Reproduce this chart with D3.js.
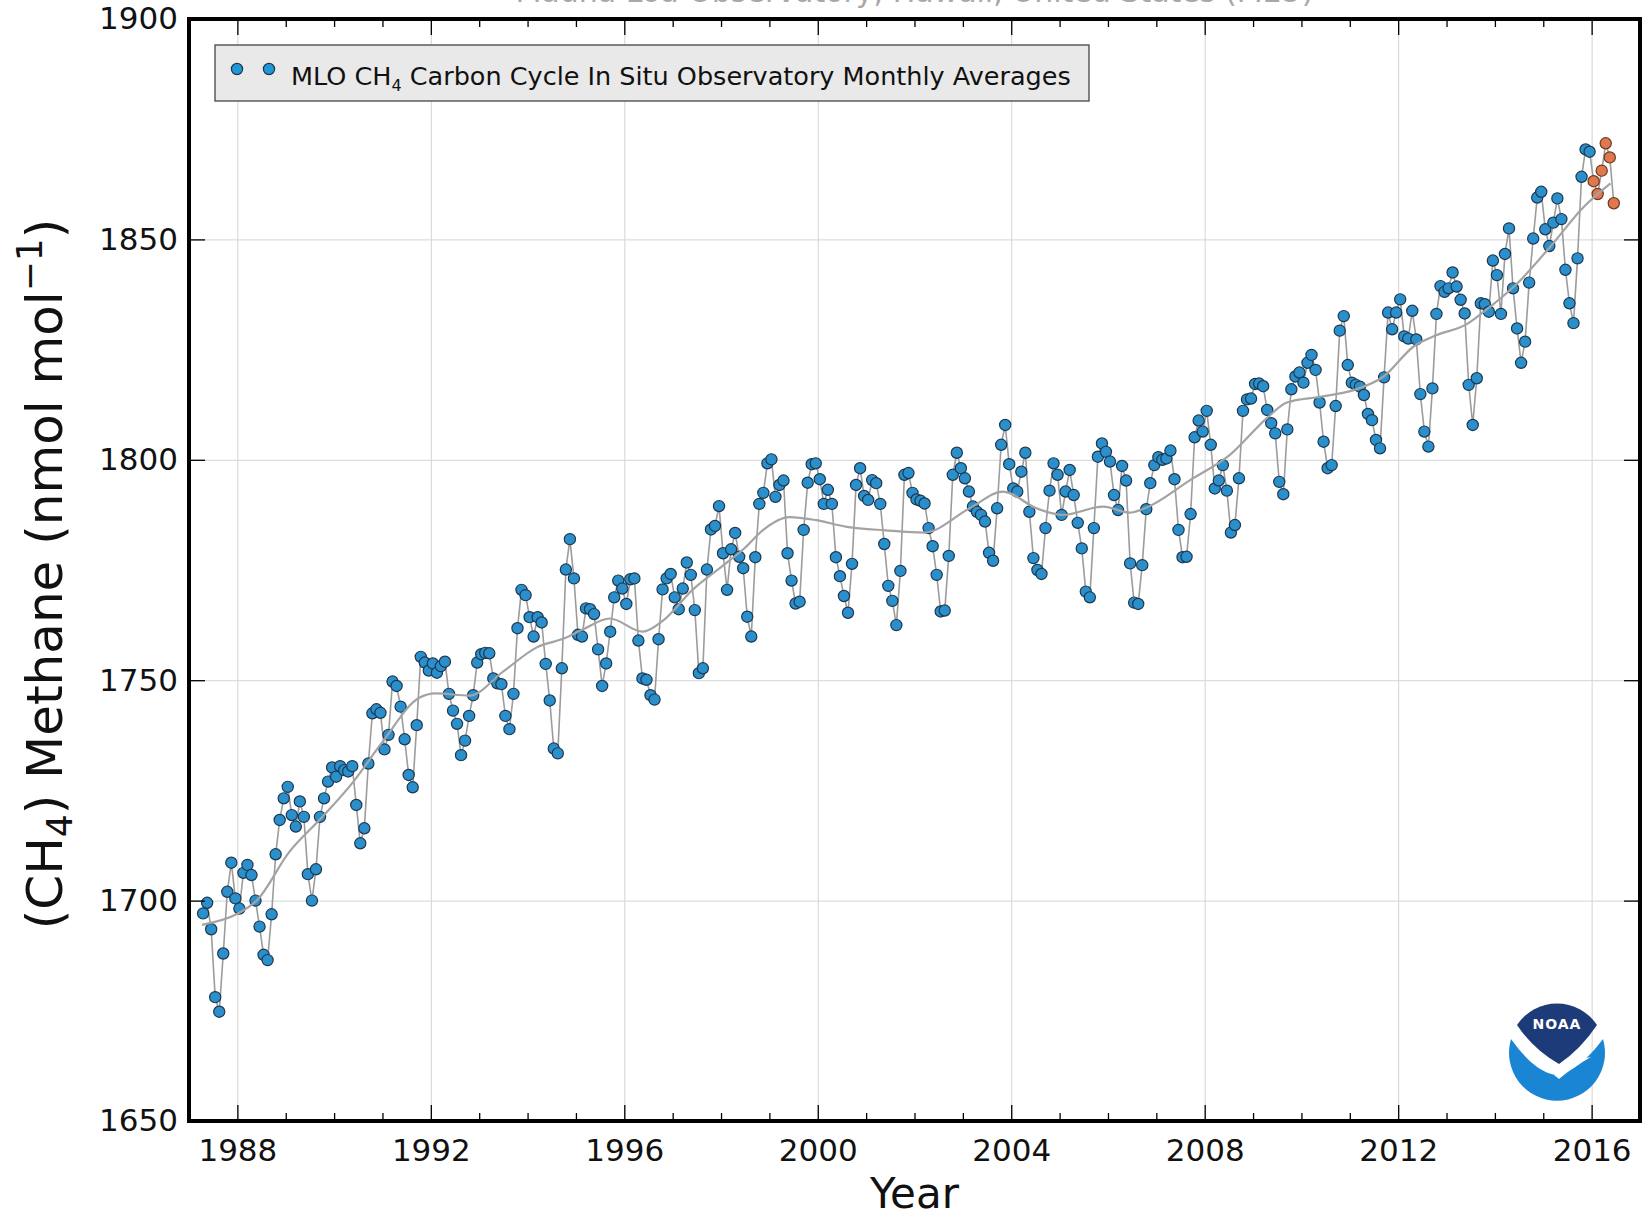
<!DOCTYPE html>
<html>
<head>
<meta charset="utf-8">
<script src="https://cdn.jsdelivr.net/npm/d3@7"></script>
<style>
  html, body { margin: 0; padding: 0; background: #fff; }
  svg { display: block; font-family: "DejaVu Sans", "Liberation Sans", sans-serif; }
</style>
</head>
<body>
<svg id="chart" width="1646" height="1218"></svg>
<script>
// Mauna Loa in situ CH4, monthly means (nmol mol-1), January..December; null = no data
const ch4_1987 = [null, null, null, 1697.1, 1699.5, 1693.5, 1678.1, 1674.8, 1688.0, 1702.0, 1708.6, 1700.5];
const ch4_1988 = [1698.2, 1706.3, 1708.1, 1705.8, 1700.0, 1694.1, 1687.7, 1686.5, 1696.9, 1710.5, 1718.3, 1723.2];
const ch4_1989 = [1725.8, 1719.4, 1716.8, 1722.5, 1719.0, 1706.0, 1700.0, 1707.1, 1719.0, 1723.2, 1727.0, 1730.2];
const ch4_1990 = [1728.1, 1730.5, 1729.6, 1729.3, 1730.5, 1721.7, 1713.0, 1716.4, 1731.1, 1742.5, 1743.4, 1742.6];
const ch4_1991 = [1734.3, 1737.6, 1749.7, 1748.7, 1744.0, 1736.6, 1728.5, 1725.7, 1739.8, 1755.3, 1754.0, 1752.2];
const ch4_1992 = [1753.8, 1751.7, 1753.2, 1754.2, 1746.9, 1743.1, 1740.1, 1733.0, 1736.3, 1741.9, 1746.6, 1754.0];
const ch4_1993 = [1755.9, 1756.2, 1756.1, 1750.4, 1749.3, 1749.1, 1741.9, 1738.9, 1746.9, 1761.8, 1770.5, 1769.3];
const ch4_1994 = [1764.3, 1759.9, 1764.3, 1763.1, 1753.7, 1745.4, 1734.5, 1733.4, 1752.7, 1775.1, 1782.0, 1773.1];
const ch4_1995 = [1760.3, 1759.9, 1766.3, 1766.1, 1765.0, 1757.0, 1748.7, 1753.8, 1761.0, 1768.8, 1772.6, 1770.8];
const ch4_1996 = [1767.3, 1772.9, 1773.1, 1759.0, 1750.4, 1750.1, 1746.6, 1745.6, 1759.3, 1770.6, 1773.1, 1774.1];
const ch4_1997 = [1768.8, 1766.1, 1770.8, 1776.7, 1773.9, 1765.9, 1751.6, 1752.7, 1775.1, 1784.2, 1785.0, 1789.5];
const ch4_1998 = [1778.8, 1770.5, 1779.7, 1783.4, 1778.0, 1775.4, 1764.4, 1759.9, 1777.9, 1790.0, 1792.5, 1799.2];
const ch4_1999 = [1800.1, 1791.6, 1794.3, 1795.3, 1778.8, 1772.6, 1767.4, 1767.8, 1784.1, 1794.8, 1799.0, 1799.2];
const ch4_2000 = [1795.6, 1790.0, 1793.2, 1790.0, 1777.9, 1773.6, 1769.1, 1765.3, 1776.4, 1794.3, 1798.1, 1791.8];
const ch4_2001 = [1790.9, 1795.4, 1794.7, 1790.0, 1780.9, 1771.4, 1768.0, 1762.5, 1774.8, 1796.6, 1797.0, 1792.5];
const ch4_2002 = [1791.0, 1790.7, 1790.1, 1784.5, 1780.4, 1773.9, 1765.6, 1765.8, 1778.2, 1796.6, 1801.6, 1798.1];
const ch4_2003 = [1795.8, 1792.8, 1789.4, 1788.2, 1787.5, 1786.0, 1778.9, 1777.1, 1789.0, 1803.4, 1807.9, 1799.0];
const ch4_2004 = [1793.5, 1792.8, 1797.3, 1801.6, 1788.2, 1777.7, 1775.0, 1774.1, 1784.5, 1793.0, 1799.2, 1796.6];
const ch4_2005 = [1787.5, 1792.8, 1797.7, 1792.0, 1785.7, 1779.9, 1770.1, 1768.8, 1784.5, 1800.7, 1803.7, 1801.8];
const ch4_2006 = [1799.6, 1792.0, 1788.6, 1798.6, 1795.3, 1776.5, 1767.6, 1767.3, 1776.1, 1788.8, 1794.7, 1798.8];
const ch4_2007 = [1800.6, 1800.0, 1800.3, 1802.1, 1795.6, 1784.1, 1777.9, 1778.0, 1787.7, 1805.1, 1808.9, 1806.4];
const ch4_2008 = [1811.1, 1803.4, 1793.5, 1795.3, 1798.8, 1793.0, 1783.5, 1785.2, 1795.8, 1811.1, 1813.7, 1813.9];
const ch4_2009 = [1817.2, 1817.3, 1816.7, 1811.3, 1808.3, 1806.0, 1795.0, 1792.2, 1806.9, 1816.0, 1818.9, 1819.8];
const ch4_2010 = [1817.5, 1822.0, 1823.8, 1820.4, 1813.0, 1804.1, 1798.1, 1798.8, 1812.2, 1829.3, 1832.6, 1821.5];
const ch4_2011 = [1817.5, 1817.0, 1816.6, 1814.7, 1810.4, 1809.0, 1804.5, 1802.6, 1818.7, 1833.4, 1829.6, 1833.4];
const ch4_2012 = [1836.4, 1828.0, 1827.5, 1833.8, 1827.3, 1814.9, 1806.4, 1803.0, 1816.2, 1833.1, 1839.4, 1838.1];
const ch4_2013 = [1838.9, 1842.5, 1839.3, 1836.3, 1833.2, 1817.0, 1807.9, 1818.5, 1835.5, 1835.3, 1833.6, 1845.2];
const ch4_2014 = [1841.9, 1833.1, 1846.7, 1852.5, 1838.9, 1829.8, 1822.0, 1826.8, 1840.2, 1850.2, 1859.5, 1860.8];
const ch4_2015 = [1852.3, 1848.5, 1853.8, 1859.3, 1854.6, 1843.1, 1835.5, 1831.0, 1845.7, 1864.2, 1870.4, 1869.9];
// preliminary months (not yet quality controlled)
const ch4_2016_prelim = [1863.2, 1860.3, 1865.6, 1871.8, 1868.6, 1858.2];

const firstYear = 1987;
const finalYears = [ch4_1987, ch4_1988, ch4_1989, ch4_1990, ch4_1991, ch4_1992, ch4_1993, ch4_1994,
  ch4_1995, ch4_1996, ch4_1997, ch4_1998, ch4_1999, ch4_2000, ch4_2001, ch4_2002, ch4_2003,
  ch4_2004, ch4_2005, ch4_2006, ch4_2007, ch4_2008, ch4_2009, ch4_2010, ch4_2011, ch4_2012,
  ch4_2013, ch4_2014, ch4_2015];
const prelimYear = 2016;

// deseasonalized long-term trend
const trendYears  = [1987.27, 1988.0, 1988.4, 1989.07, 1989.76, 1990.4, 1991.0, 1991.76, 1992.1, 1992.8,
  1993.5, 1994.2, 1994.76, 1995.14, 1995.7, 1996.38, 1996.8, 1997.41, 1998.1, 1998.49, 1998.86,
  1999.42, 1999.97, 2000.6, 2001.4, 2002.2, 2003.14, 2003.83, 2004.52, 2005.07, 2005.9, 2006.45,
  2006.76, 2007.7, 2008.52, 2009.28, 2009.7, 2010.39, 2011.08, 2011.7, 2012.32, 2012.8, 2013.39,
  2013.77, 2014.46, 2015.15, 2015.84, 2016.39];
const trendValues = [1694.5, 1697, 1700, 1711, 1719, 1727, 1736, 1746, 1747, 1746.5,
  1752, 1757.5, 1759.5, 1761.5, 1764, 1761, 1763.5, 1770.5, 1776.5, 1780, 1784,
  1787, 1786.3, 1784.8, 1784, 1783.5, 1789, 1792.8, 1789, 1787.5, 1789.4, 1788,
  1789, 1795.4, 1801.1, 1809.4, 1813, 1814.3, 1815.8, 1818.9, 1825.7, 1828.3, 1830.6,
  1833.6, 1840, 1848.4, 1857.4, 1862.7];

const xMajorTicks = [1988, 1992, 1996, 2000, 2004, 2008, 2012, 2016];
const xMinorTicks = d3.range(1987, 2018).filter(yr => !xMajorTicks.includes(yr));
const yMajorTicks = [1650, 1700, 1750, 1800, 1850, 1900];

// ---------------------------------------------------------------------------
const svg = d3.select("#chart");
const plot = { left: 189, right: 1640, top: 19, bottom: 1121 };
const W = plot.right - plot.left, H = plot.bottom - plot.top;

const x = d3.scaleLinear().domain([1987, 2017]).range([plot.left, plot.right]);
const y = d3.scaleLinear().domain([1650, 1900]).range([plot.bottom, plot.top]);

const points = [];
finalYears.forEach((vals, i) => vals.forEach((v, m) => {
  if (v != null) points.push({ t: firstYear + i + (m + 0.5) / 12, v, prelim: false });
}));
ch4_2016_prelim.forEach((v, m) => points.push({ t: prelimYear + (m + 0.5) / 12, v, prelim: true }));

// title line, running off the top edge of the page
svg.append("text")
  .attr("x", (plot.left + plot.right) / 2).attr("y", 2)
  .attr("text-anchor", "middle").attr("font-size", 30).attr("fill", "#a8a8a8")
  .text("Mauna Loa Observatory, Hawaii, United States (MLO)");

// grid
svg.append("g").attr("transform", `translate(0,${plot.bottom})`)
  .call(d3.axisBottom(x).tickValues(xMajorTicks).tickSize(-H).tickFormat(""))
  .call(g => g.select(".domain").remove())
  .call(g => g.selectAll("line").attr("stroke", "#d4d4d4").attr("stroke-width", 1));
svg.append("g").attr("transform", `translate(${plot.left},0)`)
  .call(d3.axisLeft(y).tickValues(yMajorTicks).tickSize(-W).tickFormat(""))
  .call(g => g.select(".domain").remove())
  .call(g => g.selectAll("line").attr("stroke", "#d4d4d4").attr("stroke-width", 1));

// data
svg.append("clipPath").attr("id", "plotClip")
  .append("rect").attr("x", plot.left).attr("y", plot.top).attr("width", W).attr("height", H);
const data = svg.append("g").attr("clip-path", "url(#plotClip)");

data.append("path").datum(points)
  .attr("fill", "none").attr("stroke", "#9c9c9c").attr("stroke-width", 1.6)
  .attr("d", d3.line().x(d => x(d.t)).y(d => y(d.v)));

data.selectAll("circle.obs").data(points).join("circle")
  .attr("class", "obs")
  .attr("cx", d => x(d.t)).attr("cy", d => y(d.v)).attr("r", 5.6)
  .attr("fill", d => d.prelim ? "#e0784d" : "#2a8fca")
  .attr("stroke", d => d.prelim ? "#6b3a22" : "#1c3850").attr("stroke-width", 1.2);

const trend = trendYears.map((t, i) => ({ t, v: trendValues[i] }));
data.append("path").datum(trend)
  .attr("fill", "none").attr("stroke", "#a3a3a3").attr("stroke-width", 2.2)
  .attr("d", d3.line().curve(d3.curveMonotoneX).x(d => x(d.t)).y(d => y(d.v)));

// axes: inward ticks on all four sides
const tickStyle = g => {
  g.select(".domain").remove();
  g.selectAll("line").attr("stroke", "#000").attr("stroke-width", 1.3);
  g.selectAll("text").attr("font-size", 31).attr("fill", "#111")
    .attr("font-family", "\"DejaVu Sans\", sans-serif");
};
svg.append("g").attr("transform", `translate(0,${plot.bottom})`)
  .call(d3.axisBottom(x).tickValues(xMajorTicks).tickFormat(d3.format("d")).tickSize(-16).tickPadding(18))
  .call(tickStyle);
svg.append("g").attr("transform", `translate(0,${plot.bottom})`)
  .call(d3.axisBottom(x).tickValues(xMinorTicks).tickFormat("").tickSize(-8))
  .call(tickStyle);
svg.append("g").attr("transform", `translate(0,${plot.top})`)
  .call(d3.axisTop(x).tickValues(xMajorTicks).tickFormat("").tickSize(-16))
  .call(tickStyle);
svg.append("g").attr("transform", `translate(0,${plot.top})`)
  .call(d3.axisTop(x).tickValues(xMinorTicks).tickFormat("").tickSize(-8))
  .call(tickStyle);
svg.append("g").attr("transform", `translate(${plot.left},0)`)
  .call(d3.axisLeft(y).tickValues(yMajorTicks).tickFormat(d3.format("d")).tickSize(-16).tickPadding(11))
  .call(tickStyle);
svg.append("g").attr("transform", `translate(${plot.right},0)`)
  .call(d3.axisRight(y).tickValues(yMajorTicks).tickFormat("").tickSize(-16))
  .call(tickStyle);

// frame
svg.append("rect")
  .attr("x", plot.left).attr("y", plot.top).attr("width", W).attr("height", H)
  .attr("fill", "none").attr("stroke", "#000").attr("stroke-width", 4);

// axis titles
svg.append("text")
  .attr("x", (plot.left + plot.right) / 2).attr("y", 1208)
  .attr("text-anchor", "middle").attr("font-size", 42).attr("fill", "#111")
  .text("Year");

const yl = svg.append("text")
  .attr("transform", `translate(62,${(plot.top + plot.bottom) / 2 + 4}) rotate(-90)`)
  .attr("text-anchor", "middle").attr("font-size", 50).attr("fill", "#111");
yl.append("tspan").text("(CH");
yl.append("tspan").attr("font-size", 36).attr("dy", 10).text("4");
yl.append("tspan").attr("dy", -10).text(") Methane (nmol mol");
yl.append("tspan").attr("font-size", 36).attr("dy", -20).text("\u22121");
yl.append("tspan").attr("dy", 20).text(")");

// legend
const lg = svg.append("g");
lg.append("rect").attr("x", 215).attr("y", 45).attr("width", 874).attr("height", 56)
  .attr("fill", "#e9e9e9").attr("stroke", "#444").attr("stroke-width", 1.3);
[237, 269].forEach(cx => lg.append("circle").attr("cx", cx).attr("cy", 69).attr("r", 5.6)
  .attr("fill", "#2196d8").attr("stroke", "#1c3850").attr("stroke-width", 1.2));
const lt = lg.append("text").attr("x", 291).attr("y", 85).attr("font-size", 25.5).attr("fill", "#111");
lt.append("tspan").text("MLO CH");
lt.append("tspan").attr("font-size", 16).attr("dy", 6).text("4");
lt.append("tspan").attr("dy", -6).text(" Carbon Cycle In Situ Observatory Monthly Averages");

// agency emblem
const cx = 1557, cy = 1051, R = 48;
const logo = svg.append("g");
logo.append("path")
  .attr("d", `M${cx - 46},${cy - 12} Q${cx - 22},${cy + 22} ${cx},${cy + 24} Q${cx + 22},${cy + 20} ${cx + 46},${cy - 12}
              A${R},${R} 0 1 1 ${cx - 46},${cy - 12} Z`)
  .attr("fill", "#1a86d3");
logo.append("path")
  .attr("d", `M${cx - 3},${cy + 24} Q${cx + 18},${cy + 8} ${cx + 34},${cy + 6} Q${cx + 16},${cy + 16} ${cx + 2},${cy + 28} Z`)
  .attr("fill", "#fff");
logo.append("path")
  .attr("d", `M${cx - 40},${cy - 26} A${R},${R} 0 0 1 ${cx + 40},${cy - 26}
              Q${cx + 24},${cy - 2} ${cx + 2},${cy + 13} Q${cx - 24},${cy - 2} ${cx - 40},${cy - 26} Z`)
  .attr("fill", "#1d3b78");
logo.append("text").attr("x", cx).attr("y", cy - 22).attr("text-anchor", "middle")
  .attr("font-size", 14).attr("font-weight", "bold").attr("fill", "#fff").attr("letter-spacing", 1)
  .text("NOAA");
</script>
</body>
</html>
